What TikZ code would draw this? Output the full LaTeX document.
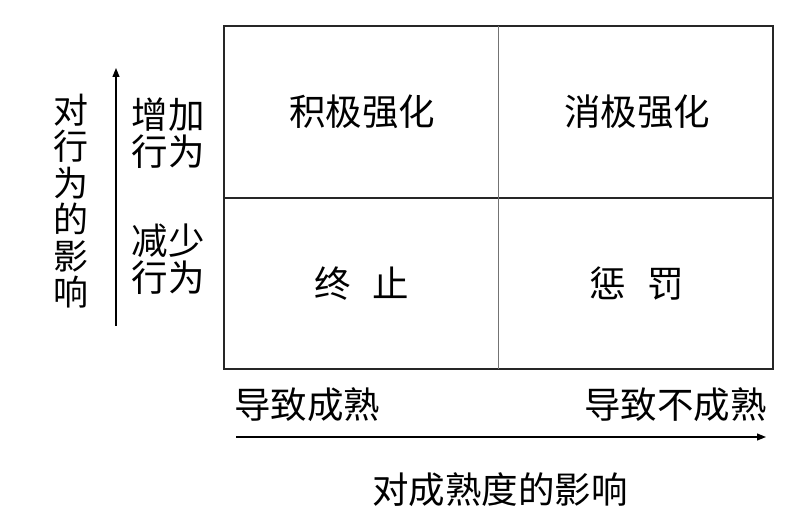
\documentclass[tikz,border=0pt]{standalone}
\usepackage{fontspec}
\setmainfont{Noto Sans CJK SC}
\usetikzlibrary{arrows.meta, positioning}

\begin{document}
\begin{tikzpicture}[
  x=1pt, y=-1pt,
  every node/.style = {font=\fontsize{36.5}{37}\selectfont, inner sep=0pt},
  cell/.style  = {align=center},
  side/.style  = {align=center},
  grid/.style  = {line width=1.6pt, black!85},
  midline/.style = {line width=1.0pt, black!55},
  arr/.style   = {-{Triangle[length=9pt, width=7pt]}, line width=1.2pt}
]
\useasboundingbox (0,0) rectangle (801,529);

% grid corners
\coordinate (tl) at (224,26);
\coordinate (br) at (773,369);
\coordinate (mt) at (498,26);
\coordinate (mb) at (498,369);
\coordinate (ml) at (224,198);
\coordinate (mr) at (773,198);

\draw[grid] (tl) rectangle (br);
\draw[grid] (ml) -- (mr);
\draw[midline] (mt) -- (mb);

% quadrant labels
\node[cell] (pos)  at (362,112) {积极强化};
\node[cell] (neg)  at (637,112) {消极强化};
\node[cell] (ext)  at (362,284) {终\hspace{0.6em}止};
\node[cell] (pun)  at (637,284) {惩\hspace{0.6em}罚};

% vertical axis
\node[side] (inc)  at (168,133) {增加\\行为};
\node[side] (dec)  at (168,259) {减少\\行为};
\node[side, font=\fontsize{35}{36.5}\selectfont] (vlab) at (71,201) {对\\行\\为\\的\\影\\响};
\coordinate (vbot) at (116,326);
\coordinate (vtop) at (116,68);
\draw[arr] (vbot) -- (vtop);

% horizontal axis
\node[anchor=west] (mat)   at (234,405) {导致成熟};
\node[anchor=east] (immat) at (767,405) {导致不成熟};
\coordinate (hl) at (236,437);
\coordinate (hr) at (766,437);
\draw[arr] (hl) -- (hr);
\node (hlab) at (500,490) {对成熟度的影响};

\end{tikzpicture}
\end{document}
